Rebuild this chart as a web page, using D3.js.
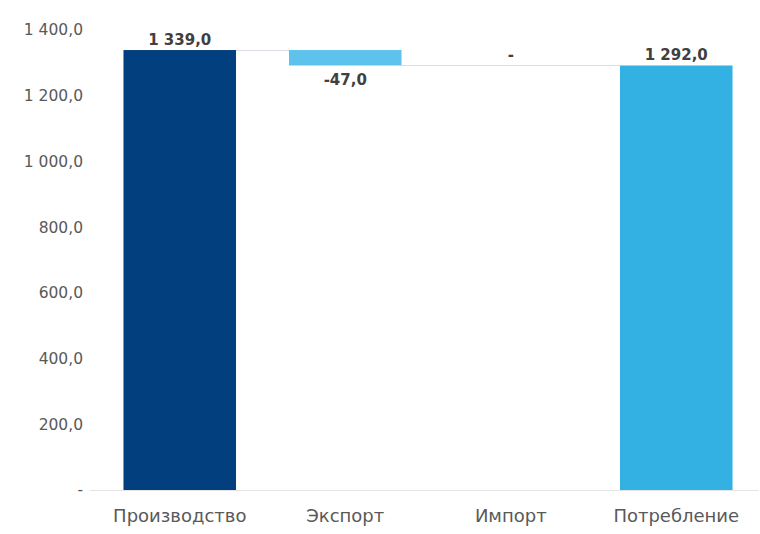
<!DOCTYPE html>
<html><head><meta charset="utf-8">
<script src="https://cdn.jsdelivr.net/npm/d3@7"></script>
<style>body{margin:0;background:#fff}svg{display:block}</style>
</head><body>
<svg id="c" width="760" height="534"></svg>
<script>
const categories = ["Производство", "Экспорт", "Импорт", "Потребление"];
const values = [1339, -47, 0, 1292];
const kinds = ["total", "delta", "delta", "total"];
const colors = ["#023f7e", "#5ec3ec", "#5ec3ec", "#32b1e2"];
const yTicks = [0, 200, 400, 600, 800, 1000, 1200, 1400];

const FONT = "DejaVu Sans, Verdana, sans-serif";
const fmt = v => {
  if (v === 0) return "-";
  const s = d3.format(",.1f")(Math.abs(v)).replace(/,/g, " ").replace(".", ",");
  return (v < 0 ? "-" : "") + s;
};

// build waterfall segments
let run = 0;
const segs = categories.map((c, i) => {
  let y0, y1;
  if (kinds[i] === "total") { y0 = 0; y1 = values[i]; run = values[i]; }
  else { y0 = run; y1 = run + values[i]; run = y1; }
  return {c, v: values[i], y0, y1, color: colors[i]};
});

const svg = d3.select("#c");
const x = d3.scaleBand().domain(categories).range([97, 759]).paddingInner(0.32).paddingOuter(0.16);
const y = d3.scaleLinear().domain([0, 1400]).range([490, 30]);

svg.append("line").attr("x1", 90).attr("x2", 759).attr("y1", y(0)+0.5).attr("y2", y(0)+0.5)
  .attr("stroke", "#e4e4e4");

const yAxis = d3.axisLeft(y).tickValues(yTicks).tickSize(0).tickPadding(0).tickFormat(fmt);
const gy = svg.append("g").attr("transform", "translate(83,0)").call(yAxis);
gy.select(".domain").remove();
gy.selectAll("text").attr("font-family", FONT)
  .attr("font-size", 15.5).attr("fill", "#595959");

const xAxis = d3.axisBottom(x).tickSize(0).tickPadding(0);
const gx = svg.append("g").attr("transform", "translate(0,509)").call(xAxis);
gx.select(".domain").remove();
gx.selectAll("text").attr("font-family", FONT)
  .attr("font-size", 18).attr("fill", "#595959");

// connectors
for (let i = 0; i < segs.length - 1; i++) {
  const a = segs[i], b = segs[i+1];
  const level = a.y1;
  svg.append("line")
    .attr("x1", x(a.c) + x.bandwidth()).attr("x2", x(b.c) + (b.v === 0 ? x.bandwidth() : 0))
    .attr("y1", Math.round(y(level))+0.5).attr("y2", Math.round(y(level))+0.5)
    .attr("stroke", "#d9dde4").attr("stroke-width", 1);
}

// bars
svg.selectAll("rect.bar").data(segs).join("rect").attr("class", "bar")
  .attr("x", d => x(d.c)).attr("width", x.bandwidth())
  .attr("y", d => y(Math.max(d.y0, d.y1)))
  .attr("height", d => Math.abs(y(d.y0) - y(d.y1)))
  .attr("fill", d => d.color);

// labels
svg.selectAll("text.lbl").data(segs).join("text").attr("class", "lbl")
  .attr("x", d => x(d.c) + x.bandwidth()/2)
  .attr("y", d => d.v < 0 ? y(d.y1) + 20 : y(Math.max(d.y0, d.y1)) - 5)
  .attr("text-anchor", "middle")
  .attr("font-family", FONT)
  .attr("font-size", 15).attr("font-weight", "bold").attr("fill", "#404040")
  .text(d => fmt(d.v));
</script>
</body></html>
